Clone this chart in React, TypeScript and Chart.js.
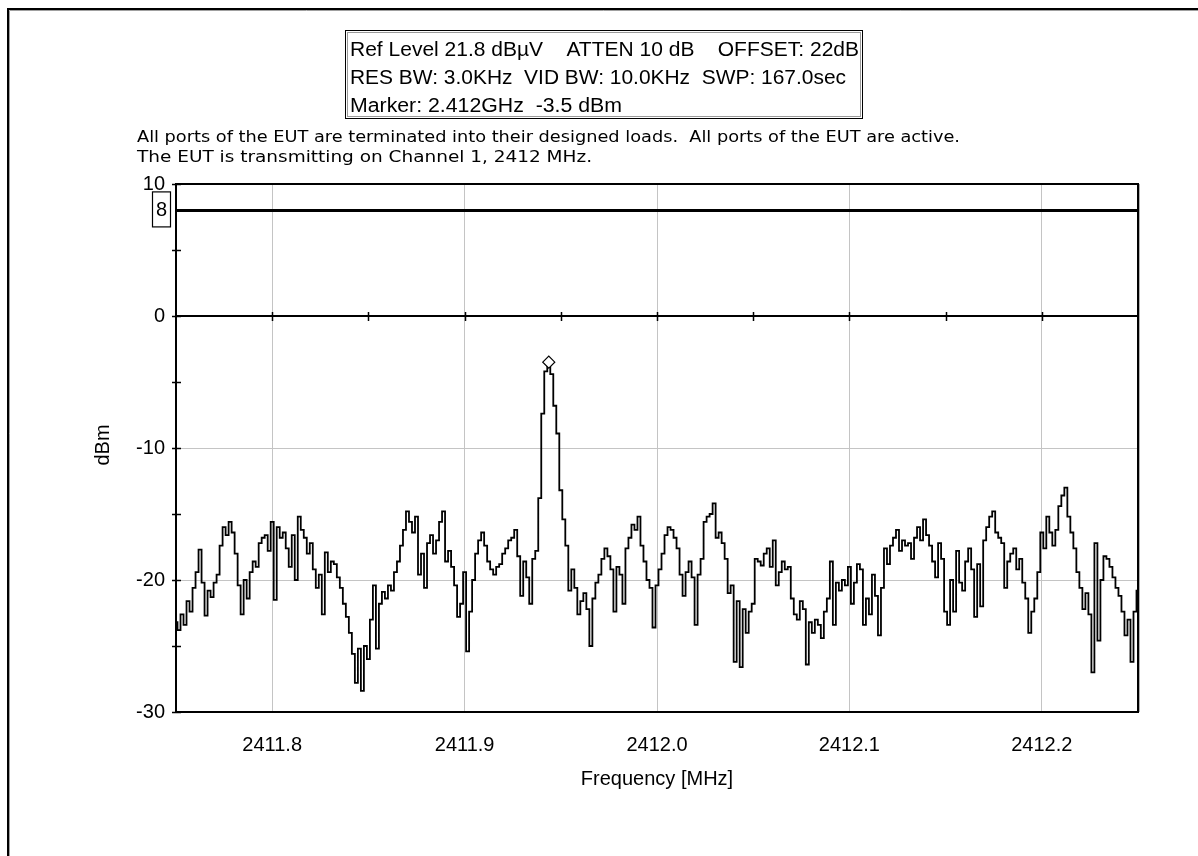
import React, { useEffect, useRef } from "react";
import { Chart, registerables } from "chart.js";
Chart.register(...registerables);

const FREQ_START = 2411.75;
const FREQ_STOP = 2412.25;

const TRACE_DBM = [
  -23.2, -23.8, -22.6, -23.4, -21.6, -22.4, -20.6, -19.4, -17.7, -20.2,
  -22.7, -20.8, -21.3, -20.2, -19.6, -17.4, -16.0, -16.6, -15.6, -16.4,
  -18.0, -20.4, -22.6, -20.0, -21.4, -19.4, -18.6, -19.0, -17.2, -16.8,
  -16.6, -17.8, -15.6, -21.5, -16.0, -16.8, -16.4, -17.6, -19.0, -16.6,
  -20.0, -15.2, -16.2, -16.8, -18.0, -17.2, -19.2, -20.6, -19.6, -22.6,
  -17.9, -19.4, -18.6, -18.8, -19.8, -20.6, -21.8, -22.8, -24.0, -25.6,
  -27.8, -25.2, -28.4, -25.0, -26.0, -23.0, -20.4, -25.2, -21.8, -20.9,
  -21.4, -20.4, -20.8, -19.4, -18.6, -17.4, -16.2, -14.8, -15.6, -16.4,
  -15.2, -19.6, -18.0, -20.6, -17.2, -16.6, -18.0, -17.0, -15.6, -14.8,
  -18.6, -17.8, -19.0, -20.4, -22.8, -21.8, -19.4, -25.4, -22.4, -20.0,
  -18.0, -17.0, -16.4, -17.4, -18.6, -19.2, -19.6, -19.0, -18.8, -18.0,
  -17.6, -17.0, -16.8, -16.2, -18.2, -21.2, -18.6, -19.8, -21.8, -18.4,
  -17.8, -13.8, -7.4, -4.2, -3.5, -4.4, -6.8, -8.9, -13.2, -15.4,
  -17.4, -20.8, -19.2, -20.6, -22.6, -21.6, -21.0, -22.2, -25.0, -21.4,
  -20.2, -19.6, -18.4, -17.6, -18.2, -19.2, -22.4, -19.0, -19.6, -21.8,
  -17.6, -16.8, -15.8, -16.2, -15.2, -17.4, -18.6, -20.0, -20.6, -23.6,
  -20.4, -19.2, -18.0, -16.6, -16.0, -16.2, -16.8, -17.6, -19.6, -21.2,
  -19.4, -18.6, -19.8, -23.4, -19.6, -18.4, -15.6, -15.2, -15.0, -14.2,
  -16.8, -16.4, -17.2, -18.4, -21.0, -20.4, -26.2, -21.6, -26.6, -22.2,
  -24.0, -22.4, -21.8, -18.4, -18.6, -18.9, -18.0, -17.6, -19.0, -17.0,
  -20.4, -19.4, -18.6, -19.2, -19.0, -21.4, -22.6, -23.0, -21.6, -22.2,
  -26.4, -23.2, -24.0, -23.0, -23.4, -24.4, -22.4, -21.4, -18.6, -23.4,
  -20.2, -20.8, -20.0, -20.4, -19.0, -21.8, -20.2, -18.8, -19.2, -23.4,
  -21.4, -22.6, -19.6, -21.2, -24.2, -20.6, -17.6, -18.8, -17.4, -16.8,
  -16.2, -17.8, -17.0, -17.4, -17.2, -18.4, -16.8, -16.0, -17.0, -15.4,
  -16.6, -17.4, -18.6, -19.8, -17.2, -18.4, -22.4, -23.4, -20.0, -22.4,
  -17.8, -20.2, -20.8, -18.6, -17.6, -19.2, -22.8, -18.8, -22.0, -17.0,
  -16.0, -15.2, -14.8, -16.4, -16.8, -17.2, -20.6, -18.6, -18.0, -17.6,
  -19.2, -18.4, -20.2, -21.4, -24.0, -22.4, -21.4, -19.4, -16.4, -17.6,
  -15.2, -16.4, -17.4, -16.2, -14.4, -13.6, -13.0, -15.2, -16.4, -17.6,
  -19.4, -20.6, -22.2, -21.0, -22.6, -27.0, -17.2, -24.6, -20.0, -18.2,
  -18.4, -19.0, -19.8, -20.6, -21.2, -22.4, -24.2, -23.0, -26.2, -22.4,
  -20.8,
];

const X_TICKS = [2411.8, 2411.9, 2412.0, 2412.1, 2412.2];
const ZERO_LINE_TICKS = [2411.8, 2411.85, 2411.9, 2411.95, 2412.0, 2412.05, 2412.1, 2412.15, 2412.2];
const Y_TICKS = [-30, -25, -20, -15, -10, -5, 0, 5, 10];
const Y_MIN = -30;
const Y_MAX = 10;
const LIMIT_DBM = 8;
const MARKER_FREQ = 2411.94375;
const MARKER_DBM = -3.5;

const HEADER_LINES = [
  "Ref Level 21.8 dB\u00b5V    ATTEN 10 dB    OFFSET: 22dB",
  "RES BW: 3.0KHz  VID BW: 10.0KHz  SWP: 167.0sec",
  "Marker: 2.412GHz  -3.5 dBm",
];
const NOTE_LINES = [
  "All ports of the EUT are terminated into their designed loads.  All ports of the EUT are active.",
  "The EUT is transmitting on Channel 1, 2412 MHz.",
];
const X_TITLE = "Frequency [MHz]";
const Y_TITLE = "dBm";

const FONT = "'Liberation Sans', Arial, sans-serif";
const NOTE_FONT = "'DejaVu Sans Condensed', 'Liberation Sans Narrow', 'Liberation Sans', sans-serif";

function fitText(ctx: CanvasRenderingContext2D, text: string, x: number, y: number, width: number) {
  const w = ctx.measureText(text).width;
  const sx = width / w;
  ctx.save();
  ctx.translate(x, y);
  ctx.scale(sx, 1);
  ctx.fillText(text, 0, 0);
  ctx.restore();
}

const decorPlugin = {
  id: "decor",
  beforeDraw(chart: any) {
    const ctx = chart.ctx as CanvasRenderingContext2D;
    ctx.save();
    ctx.fillStyle = "#fff";
    ctx.fillRect(0, 0, chart.width, chart.height);
    ctx.strokeStyle = "#000";
    ctx.lineWidth = 2;
    ctx.beginPath();
    ctx.moveTo(8, chart.height);
    ctx.lineTo(8, 9);
    ctx.lineTo(chart.width, 9);
    ctx.stroke();
    ctx.strokeStyle = "#a0a0a0";
    ctx.lineWidth = 1;
    ctx.beginPath();
    ctx.moveTo(9.5, chart.height);
    ctx.lineTo(9.5, 10.5);
    ctx.lineTo(chart.width, 10.5);
    ctx.stroke();
    ctx.restore();
  },
  afterDraw(chart: any) {
    const ctx = chart.ctx as CanvasRenderingContext2D;
    const { left, right, top, bottom } = chart.chartArea;
    const xs = chart.scales.x;
    const ys = chart.scales.y;
    ctx.save();
    ctx.strokeStyle = "#000";
    ctx.lineWidth = 2;
    ctx.strokeRect(left, top, right - left, bottom - top);
    ctx.strokeStyle = "#b0b0b0";
    ctx.lineWidth = 1;
    ctx.beginPath();
    ctx.moveTo(right + 1.5, top);
    ctx.lineTo(right + 1.5, bottom);
    ctx.stroke();
    const y0 = ys.getPixelForValue(0);
    ctx.strokeStyle = "#000";
    ctx.lineWidth = 2;
    ctx.beginPath();
    ctx.moveTo(left, y0);
    ctx.lineTo(right, y0);
    ctx.stroke();
    ctx.lineWidth = 1.5;
    ctx.beginPath();
    for (const f of ZERO_LINE_TICKS) {
      const px = Math.round(xs.getPixelForValue(f)) + 0.5;
      ctx.moveTo(px, y0 - 4);
      ctx.lineTo(px, y0 + 5);
    }
    for (const v of Y_TICKS) {
      const py = Math.round(ys.getPixelForValue(v)) + 0.5;
      ctx.moveTo(left - 4, py);
      ctx.lineTo(left + 5, py);
    }
    ctx.stroke();
    // limit label box
    const ly = ys.getPixelForValue(LIMIT_DBM);
    ctx.fillStyle = "#fff";
    ctx.fillRect(left - 24, ly - 19, 19, 36);
    ctx.strokeStyle = "#000";
    ctx.lineWidth = 1.2;
    ctx.strokeRect(left - 23.5, ly - 18.5, 18, 35);
    ctx.fillStyle = "#000";
    ctx.font = `20px ${FONT}`;
    ctx.textAlign = "center";
    ctx.textBaseline = "middle";
    ctx.fillText(String(LIMIT_DBM), left - 14.5, ly);
    // header box
    ctx.strokeStyle = "#000";
    ctx.lineWidth = 1;
    ctx.strokeRect(345.5, 30.5, 517, 88);
    ctx.strokeStyle = "#9a9a9a";
    ctx.strokeRect(347.5, 32.5, 513, 84);
    ctx.textAlign = "left";
    ctx.textBaseline = "middle";
    ctx.font = `20px ${FONT}`;
    const hw = [509, 496, 272];
    HEADER_LINES.forEach((t, i) => fitText(ctx, t, 350, 50 + i * 28, hw[i]));
    // notes
    ctx.font = `16px ${NOTE_FONT}`;
    const nw = [823, 455];
    NOTE_LINES.forEach((t, i) => fitText(ctx, t, 137, 138 + i * 20, nw[i]));
    // axis titles
    ctx.font = `20px ${FONT}`;
    ctx.textAlign = "center";
    ctx.fillText(X_TITLE, (left + right) / 2, 779);
    ctx.save();
    ctx.translate(103, (top + bottom) / 2 - 3);
    ctx.rotate(-Math.PI / 2);
    ctx.fillText(Y_TITLE, 0, 0);
    ctx.restore();
    ctx.restore();
  },
};

export default function App() {
  const ref = useRef<HTMLCanvasElement | null>(null);
  useEffect(() => {
    if (!ref.current) return;
    const n = TRACE_DBM.length;
    const step = (FREQ_STOP - FREQ_START) / (n - 1);
    const trace = TRACE_DBM.map((v, i) => ({ x: FREQ_START + i * step, y: v }));
    const chart = new Chart(ref.current, {
      type: "line",
      data: {
        datasets: [
          {
            label: "Marker",
            data: [{ x: MARKER_FREQ, y: MARKER_DBM }],
            showLine: false,
            pointStyle: "rectRot",
            pointRadius: 6,
            borderColor: "#000",
            backgroundColor: "#fff",
            borderWidth: 1.2,
          },
          {
            label: "Limit",
            data: [
              { x: FREQ_START, y: LIMIT_DBM },
              { x: FREQ_STOP, y: LIMIT_DBM },
            ],
            borderColor: "#000",
            borderWidth: 3,
            pointRadius: 0,
          },
          {
            label: "Trace",
            data: trace,
            borderColor: "#000",
            borderWidth: 1.8,
            pointRadius: 0,
            stepped: "middle",
          },
        ],
      },
      options: {
        responsive: false,
        animation: false,
        devicePixelRatio: 1,
        layout: { padding: { left: 0, top: 184, right: 60, bottom: 0 } },
        plugins: { legend: { display: false }, tooltip: { enabled: false } },
        scales: {
          x: {
            type: "linear",
            min: FREQ_START,
            max: FREQ_STOP,
            afterBuildTicks: (s: any) => {
              s.ticks = X_TICKS.map((v) => ({ value: v }));
            },
            afterFit: (s: any) => {
              s.height = 144;
            },
            ticks: {
              callback: (v: any) => Number(v).toFixed(1),
              color: "#000",
              font: { family: FONT, size: 20 },
              padding: 21,
              maxRotation: 0,
              autoSkip: false,
            },
            grid: { color: "#c4c4c4", lineWidth: 1, drawTicks: false },
            border: { display: false },
          },
          y: {
            type: "linear",
            min: Y_MIN,
            max: Y_MAX,
            afterBuildTicks: (s: any) => {
              s.ticks = Y_TICKS.map((v) => ({ value: v }));
            },
            afterFit: (s: any) => {
              s.width = 176;
            },
            ticks: {
              callback: (v: any) => (Number(v) % 10 === 0 ? String(v) : ""),
              color: "#000",
              font: { family: FONT, size: 20 },
              padding: 11,
              autoSkip: false,
            },
            grid: {
              color: (c: any) => {
                const v = c.tick ? c.tick.value : NaN;
                return v === -10 || v === -20 ? "#c4c4c4" : "transparent";
              },
              lineWidth: 1,
              drawTicks: false,
            },
            border: { display: false },
          },
        },
      },
      plugins: [decorPlugin],
    });
    return () => chart.destroy();
  }, []);
  return (
    <div style={{ position: "absolute", left: 0, top: 0, width: 1198, height: 856 }}>
      <canvas ref={ref} width={1198} height={856} style={{ width: 1198, height: 856, display: "block" }} />
    </div>
  );
}
